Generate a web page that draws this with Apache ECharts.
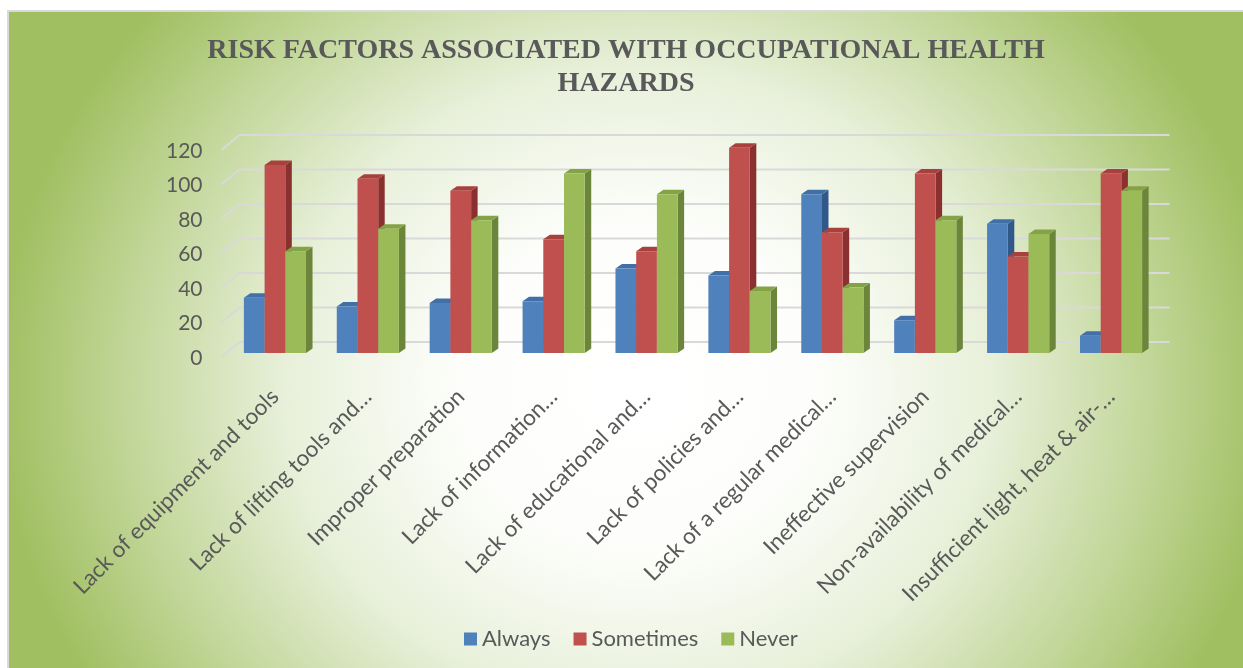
<!DOCTYPE html>
<html>
<head>
<meta charset="utf-8">
<script src="https://cdn.jsdelivr.net/npm/echarts@6/dist/echarts.min.js"></script>
<style>
  html, body { margin: 0; padding: 0; background: #fff; }
  #frame { position: absolute; left: 7px; top: 10px; width: 1236px; height: 658px;
           border-top: 2px solid #d9d9d9; border-left: 2px solid #d9d9d9; }
  #chart { position: absolute; left: 9px; top: 12px; width: 1234px; height: 656px;
           background: radial-gradient(ellipse 52% 88% at 51% 57%, #ffffff 0%, #fdfefb 28%, #e8f0da 55%, #c4d89d 78%, #a0bf60 100%); }
</style>
</head>
<body>
<div id="frame"></div>
<div id="chart"></div>
<script>
// ─── Risk factors associated with occupational health hazards — 3D-look grouped columns ───
const categories = [
  'Lack of equipment and tools',
  'Lack of lifting tools and…',
  'Improper preparation',
  'Lack of information…',
  'Lack of educational and…',
  'Lack of policies and…',
  'Lack of a regular medical…',
  'Ineffective supervision',
  'Non-availability of medical…',
  'Insufficient light, heat & air-…',
];
const always    = [32, 27, 29, 30, 49, 45, 92, 19, 75, 10];
const sometimes = [109, 101, 94, 66, 59, 119, 70, 104, 56, 104];
const never     = [59, 72, 77, 104, 92, 36, 38, 77, 69, 94];
const yTicks    = [0, 20, 40, 60, 80, 100, 120];

// front / top / side shades per series
const shades = [
  { front: '#4f81bd', top: '#416fa8', side: '#32588a' },
  { front: '#c0504d', top: '#a8403d', side: '#8a302e' },
  { front: '#9bbb59', top: '#84a347', side: '#6b853a' },
];
const DX = 6.5, DY = -4.5; // bar depth offset

// one column with a front face, a lit top and a shaded side
const barItem = (s) => (params, api) => {
  const ci = api.value(0), v = api.value(1);
  const band = api.size([1, 0])[0];
  const bw = band * 0.223;
  const base = api.coord([ci, 0]);
  const top = api.coord([ci, v]);
  const x0 = base[0] - 1.5 * bw + s * bw, x1 = x0 + bw;
  const y0 = base[1], y1 = top[1];
  const c = shades[s];
  return {
    type: 'group',
    children: [
      { type: 'polygon', shape: { points: [[x1, y1], [x1 + DX, y1 + DY], [x1 + DX, y0 + DY], [x1, y0]] }, style: { fill: c.side } },
      { type: 'polygon', shape: { points: [[x0, y1], [x0 + DX, y1 + DY], [x1 + DX, y1 + DY], [x1, y1]] }, style: { fill: c.top } },
      { type: 'rect', shape: { x: x0, y: y1, width: bw, height: y0 - y1 }, style: { fill: c.front } },
    ],
  };
};

// back-wall gridline with the short diagonal on the side wall
const wallItem = (params, api) => {
  const v = api.value(1);
  const band = api.size([1, 0])[0];
  const left = api.coord([0, v])[0] - band / 2;
  const right = api.coord([categories.length - 1, v])[0] + band / 2;
  const y = api.coord([0, v])[1];
  return {
    type: 'polyline',
    shape: { points: [[left - 7, y + 4], [left + 11, y - 11], [right + 12, y - 11]] },
    style: { stroke: '#d9d9d9', lineWidth: 2, fill: null },
  };
};

const txt = '#595959';
const font = 'Lato, "Open Sans", sans-serif';

const chart = echarts.init(document.getElementById('chart'), null, { renderer: 'canvas' });
chart.setOption({
  animation: false,
  backgroundColor: 'transparent',
  title: {
    text: 'RISK FACTORS ASSOCIATED WITH OCCUPATIONAL HEALTH\nHAZARDS',
    left: 'center', top: 17,
    textStyle: { fontFamily: '"Liberation Serif", "Times New Roman", serif', fontWeight: 'bold', fontSize: 28, lineHeight: 33, color: txt },
  },
  legend: {
    data: ['Always', 'Sometimes', 'Never'],
    left: 450, top: 611,
    icon: 'rect', itemWidth: 13, itemHeight: 13, itemGap: 23,
    textStyle: { fontFamily: font, fontSize: 22, color: txt },
  },
  grid: { left: 219.5, top: 134, width: 929, height: 207, containLabel: false },
  xAxis: {
    type: 'category', data: categories,
    axisLine: { show: false }, axisTick: { show: false }, splitLine: { show: false },
    axisLabel: { interval: 0, rotate: 45, margin: 40, fontFamily: font, fontSize: 22.5, color: txt },
  },
  yAxis: {
    type: 'value', min: 0, max: 120, interval: 20,
    axisLine: { show: false }, axisTick: { show: false }, splitLine: { show: false },
    axisLabel: { margin: 26, fontFamily: font, fontSize: 21, color: txt, verticalAlign: 'top', lineHeight: 10 },
  },
  series: [
    { type: 'custom', name: 'wall', silent: true, z: 1, renderItem: wallItem, encode: { x: 0, y: 1 },
      data: yTicks.map((v) => [0, v]) },
    { type: 'custom', name: 'Always', z: 2, renderItem: barItem(0), encode: { x: 0, y: 1 },
      itemStyle: { color: shades[0].front }, data: always.map((v, i) => [i, v]) },
    { type: 'custom', name: 'Sometimes', z: 2, renderItem: barItem(1), encode: { x: 0, y: 1 },
      itemStyle: { color: shades[1].front }, data: sometimes.map((v, i) => [i, v]) },
    { type: 'custom', name: 'Never', z: 2, renderItem: barItem(2), encode: { x: 0, y: 1 },
      itemStyle: { color: shades[2].front }, data: never.map((v, i) => [i, v]) },
  ],
});
</script>
</body>
</html>
